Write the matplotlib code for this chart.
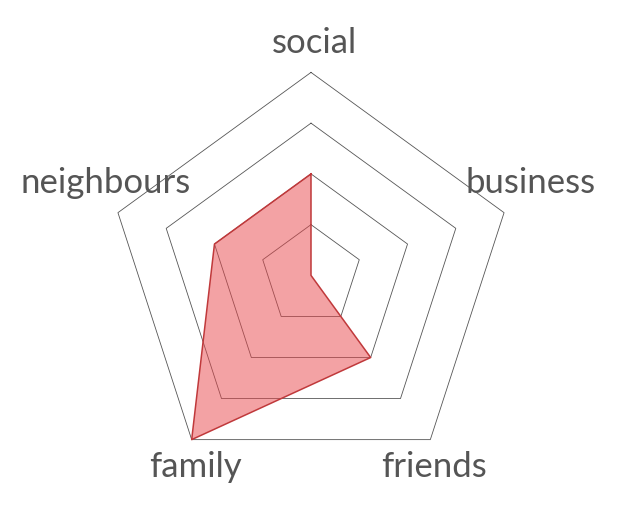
import numpy as np
import matplotlib
matplotlib.use('Agg')
import matplotlib.pyplot as plt

# radar data
axes_names = ['social', 'business', 'friends', 'family', 'neighbours']
values = [0.5, 0.0, 0.5, 1.0, 0.5]
levels = [0.25, 0.5, 0.75, 1.0]

# layout in pixels
cx, cy, R = 311, 275.4, 203
angles = np.deg2rad([90, 18, -54, -126, 162])
label_pos = [(314, 53), (531, 193), (434, 477), (195, 477), (106, 193)]

fig = plt.figure(figsize=(6.21, 5.12), dpi=100)
ax = fig.add_axes([0, 0, 1, 1])
ax.set_xlim(0, 621)
ax.set_ylim(512, 0)
ax.axis('off')

def pts(r):
    r = np.asarray(r, dtype=float)
    xs = cx + r * R * np.cos(angles)
    ys = cy - r * R * np.sin(angles)
    return np.append(xs, xs[0]), np.append(ys, ys[0])

for lv in levels:
    xs, ys = pts([lv] * 5)
    ax.plot(xs, ys, color='#555555', lw=0.6, zorder=1)

xs, ys = pts(values)
ax.fill(xs, ys, color='#e8474b', alpha=0.5, lw=0, zorder=2)
ax.plot(xs, ys, color='#c0393b', lw=1.1, zorder=3)

for name, (lx, ly) in zip(axes_names, label_pos):
    ax.text(lx, ly, name, ha='center', va='baseline', fontsize=25,
            color='#555555', family='Lato')

fig.savefig('out.png', dpi=100)
